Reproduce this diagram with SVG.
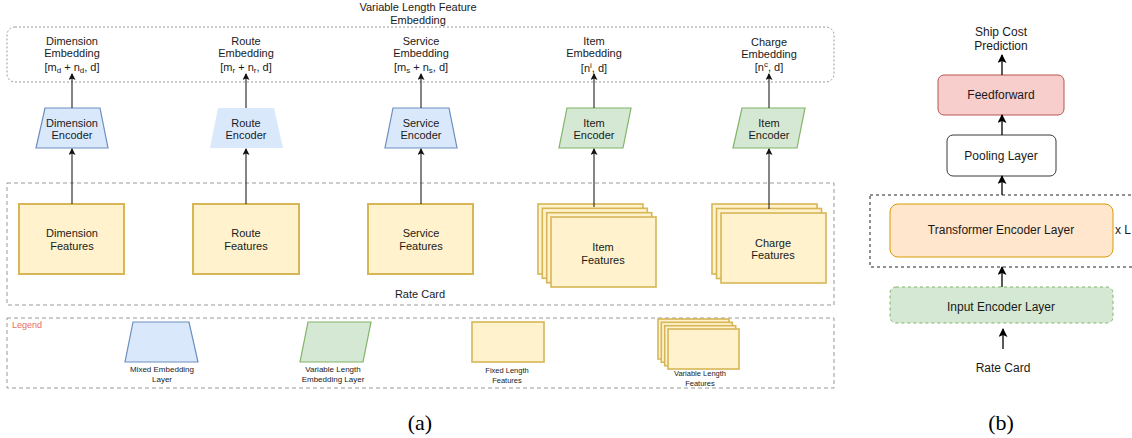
<svg xmlns="http://www.w3.org/2000/svg" width="1132" height="438" viewBox="0 0 1132 438">
<defs>
<marker id="arr" markerUnits="userSpaceOnUse" markerWidth="8" markerHeight="8" refX="6" refY="3.5" orient="auto">
<path d="M0,0 L7,3.5 L0,7 L1.5,3.5 Z" fill="#111"/>
</marker>
<marker id="arrb" markerUnits="userSpaceOnUse" markerWidth="10" markerHeight="10" refX="8" refY="4.5" orient="auto">
<path d="M0,0 L9,4.5 L0,9 L2,4.5 Z" fill="#000"/>
</marker>
<style>
text{font-family:"Liberation Sans",Arial,sans-serif;fill:#1a1a1a;}
.t11{font-size:11px;text-anchor:middle;}
.t12{font-size:12px;text-anchor:middle;}
.t8{font-size:8px;text-anchor:middle;}
.blue{fill:#dae8fc;stroke:#6c8ebf;stroke-width:1.2;}
.green{fill:#d5e8d4;stroke:#82b366;stroke-width:1.2;}
.yel{fill:#fff2cc;stroke:#d6b656;stroke-width:2;}
.yels{fill:#fff2cc;stroke:#d6b656;stroke-width:1.6;}
.conn{stroke:#333;stroke-width:1.2;fill:none;marker-end:url(#arr);}
.connb{stroke:#000;stroke-width:1.3;fill:none;marker-end:url(#arrb);}
.dash{fill:none;stroke:#999;stroke-width:1;stroke-dasharray:4 3;}
.sub{font-size:8px;}
</style>
</defs>

<!-- containers -->
<g id="embedding-container">
<rect x="7" y="27" width="827" height="55" rx="8" fill="none" stroke="#999" stroke-width="1" stroke-dasharray="2 2"/>
<text class="t11" x="418" y="11">Variable Length Feature</text>
<text class="t11" x="418" y="24">Embedding</text>
</g>
<g id="rate-card-container">
<rect class="dash" x="7" y="183" width="827" height="122"/>
<text class="t11" x="420" y="298">Rate Card</text>
</g>
<g id="legend-container">
<rect class="dash" x="7" y="318" width="827" height="70"/>
<text x="12" y="328" style="font-size:9px;fill:#ea6b66;">Legend</text>
</g>

<!-- embedding labels -->
<g id="dim-emb">
<text class="t11" x="72" y="45">Dimension</text>
<text class="t11" x="72" y="57">Embedding</text>
<text class="t11" x="72" y="71">[m<tspan class="sub" dy="2">d</tspan><tspan dy="-2"> + n</tspan><tspan class="sub" dy="2">d</tspan><tspan dy="-2">, d]</tspan></text>
</g>
<g id="route-emb">
<text class="t11" x="246" y="45">Route</text>
<text class="t11" x="246" y="57">Embedding</text>
<text class="t11" x="246" y="71">[m<tspan class="sub" dy="2">r</tspan><tspan dy="-2"> + n</tspan><tspan class="sub" dy="2">r</tspan><tspan dy="-2">, d]</tspan></text>
</g>
<g id="service-emb">
<text class="t11" x="421" y="45">Service</text>
<text class="t11" x="421" y="57">Embedding</text>
<text class="t11" x="421" y="71">[m<tspan class="sub" dy="2">s</tspan><tspan dy="-2"> + n</tspan><tspan class="sub" dy="2">s</tspan><tspan dy="-2">, d]</tspan></text>
</g>
<g id="item-emb">
<text class="t11" x="594" y="45">Item</text>
<text class="t11" x="594" y="57">Embedding</text>
<text class="t11" x="594" y="72">[n<tspan class="sub" dy="-4">i</tspan><tspan dy="4">, d]</tspan></text>
</g>
<g id="charge-emb">
<text class="t11" x="769" y="46">Charge</text>
<text class="t11" x="769" y="58">Embedding</text>
<text class="t11" x="769" y="71">[n<tspan class="sub" dy="-4">c</tspan><tspan dy="4">, d]</tspan></text>
</g>

<!-- encoders -->
<g id="dim-encoder">
<polygon class="blue" points="45,108 100,108 108,148 36,148"/>
<text class="t11" x="72" y="127">Dimension</text>
<text class="t11" x="72" y="139">Encoder</text>
</g>
<g id="route-encoder">
<polygon points="218,108 274,108 283,148 210,148" fill="#dae8fc"/>
<text class="t11" x="246" y="127">Route</text>
<text class="t11" x="246" y="139">Encoder</text>
</g>
<g id="service-encoder">
<polygon class="blue" points="393,108 449,108 457,148 385,148"/>
<text class="t11" x="421" y="127">Service</text>
<text class="t11" x="421" y="139">Encoder</text>
</g>
<g id="item-encoder">
<polygon class="green" points="567,108 631,108 623,148 559,148"/>
<text class="t11" x="594" y="127">Item</text>
<text class="t11" x="594" y="139">Encoder</text>
</g>
<g id="charge-encoder">
<polygon class="green" points="742,108 805,108 797,148 733,148"/>
<text class="t11" x="769" y="127">Item</text>
<text class="t11" x="769" y="139">Encoder</text>
</g>

<!-- features -->
<g id="dim-features">
<rect class="yel" x="19" y="204" width="105" height="70"/>
<text class="t11" x="72" y="237">Dimension</text>
<text class="t11" x="72" y="250">Features</text>
</g>
<g id="route-features">
<rect class="yel" x="193" y="204" width="106" height="70"/>
<text class="t11" x="246" y="237">Route</text>
<text class="t11" x="246" y="250">Features</text>
</g>
<g id="service-features">
<rect class="yel" x="368" y="204" width="105" height="70"/>
<text class="t11" x="421" y="237">Service</text>
<text class="t11" x="421" y="250">Features</text>
</g>
<g id="item-features">
<rect class="yels" x="538" y="204" width="105" height="70"/>
<rect class="yels" x="542.3" y="208.3" width="105" height="70"/>
<rect class="yels" x="546.7" y="212.7" width="105" height="70"/>
<rect class="yels" x="551" y="217" width="105" height="70"/>
<text class="t11" x="603" y="251">Item</text>
<text class="t11" x="603" y="264">Features</text>
</g>
<g id="charge-features">
<rect class="yels" x="712" y="204" width="105" height="70"/>
<rect class="yels" x="716.5" y="208.5" width="105" height="70"/>
<rect class="yels" x="721" y="213" width="105" height="70"/>
<text class="t11" x="773" y="247">Charge</text>
<text class="t11" x="773" y="259">Features</text>
</g>

<!-- legend items -->
<g id="legend-mixed">
<polygon class="blue" points="133,322 189,322 198,362 125,362"/>
<text class="t8" x="162" y="372">Mixed Embedding</text>
<text class="t8" x="162" y="382">Layer</text>
</g>
<g id="legend-varemb">
<polygon class="green" points="308,322 371,322 363,362 300,362"/>
<text class="t8" x="333" y="372">Variable Length</text>
<text class="t8" x="333" y="382">Embedding Layer</text>
</g>
<g id="legend-fixed">
<rect class="yels" x="472" y="322" width="72" height="40"/>
<text class="t8" x="507" y="373" style="font-size:7.5px">Fixed Length</text>
<text class="t8" x="507" y="383" style="font-size:7.5px">Features</text>
</g>
<g id="legend-varfeat">
<rect class="yels" x="658" y="319" width="71" height="40"/>
<rect class="yels" x="661.3" y="322.3" width="71" height="40"/>
<rect class="yels" x="664.7" y="325.7" width="71" height="40"/>
<rect class="yels" x="668" y="329" width="71" height="40"/>
<text class="t8" x="700" y="376" style="font-size:7.5px">Variable Length</text>
<text class="t8" x="700" y="386" style="font-size:7.5px">Features</text>
</g>

<!-- part b nodes -->
<g id="ship-cost">
<text class="t12" x="1001" y="36">Ship Cost</text>
<text class="t12" x="1001" y="50">Prediction</text>
</g>
<g id="feedforward">
<rect x="938" y="75" width="126" height="40" rx="6" fill="#f8cecc" stroke="#b85450" stroke-width="1"/>
<text class="t12" x="1001" y="99">Feedforward</text>
</g>
<g id="pooling">
<rect x="947" y="135" width="109" height="41" rx="6" fill="#ffffff" stroke="#36393d" stroke-width="1"/>
<text class="t12" x="1001" y="160">Pooling Layer</text>
</g>
<g id="transformer-block">
<rect x="870" y="195" width="266" height="72" fill="none" stroke="#222" stroke-width="1" stroke-dasharray="3 3"/>
<rect x="890" y="204" width="223" height="53" rx="8" fill="#ffe6cc" stroke="#d79b00" stroke-width="1"/>
<text class="t12" x="1001" y="234">Transformer Encoder Layer</text>
<text x="1115" y="234" style="font-size:12px">x L</text>
</g>
<g id="input-encoder">
<rect x="890" y="287" width="223" height="36" rx="6" fill="#d5e8d4" stroke="#82b366" stroke-width="1" stroke-dasharray="3 3"/>
<text class="t12" x="1001" y="311">Input Encoder Layer</text>
</g>
<g id="rate-card-b">
<text class="t12" x="1003" y="372">Rate Card</text>
</g>

<!-- captions -->
<text x="420" y="430" style="font-family:'Liberation Serif','DejaVu Serif',serif;font-size:22px;text-anchor:middle;fill:#000">(a)</text>
<text x="1001" y="430" style="font-family:'Liberation Serif','DejaVu Serif',serif;font-size:22px;text-anchor:middle;fill:#000">(b)</text>

<!-- connectors -->
<g id="connectors">
<line class="conn" x1="72" y1="204" x2="72" y2="149"/>
<line class="conn" x1="72" y1="108" x2="72" y2="74"/>
<line class="conn" x1="246" y1="204" x2="246" y2="149"/>
<line class="conn" x1="246" y1="108" x2="246" y2="74"/>
<line class="conn" x1="421" y1="204" x2="421" y2="149"/>
<line class="conn" x1="421" y1="108" x2="421" y2="74"/>
<line class="conn" x1="594" y1="207" x2="594" y2="149"/>
<line class="conn" x1="594" y1="108" x2="594" y2="74"/>
<line class="conn" x1="769" y1="209" x2="769" y2="149"/>
<line class="conn" x1="769" y1="108" x2="769" y2="74"/>
<line class="connb" x1="1002" y1="75" x2="1002" y2="55"/>
<line class="connb" x1="1002" y1="135" x2="1002" y2="115"/>
<line class="connb" x1="1002" y1="195" x2="1002" y2="176"/>
<line class="connb" x1="1002" y1="287" x2="1002" y2="267"/>
<line class="connb" x1="1003" y1="349" x2="1003" y2="329"/>
</g>
</svg>
